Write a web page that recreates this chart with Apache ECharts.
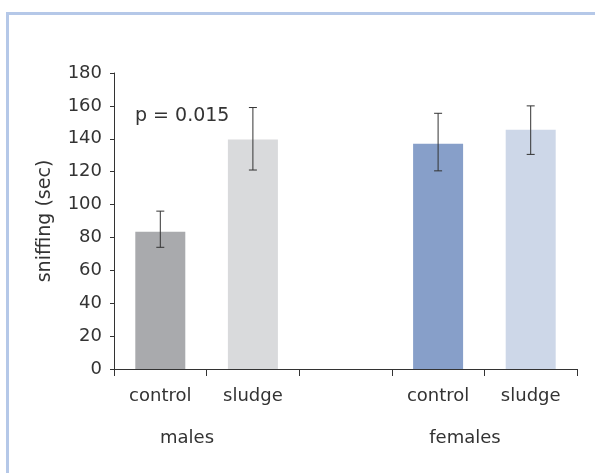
<!DOCTYPE html>
<html>
<head>
<meta charset="utf-8">
<script src="https://cdn.jsdelivr.net/npm/echarts@6/dist/echarts.min.js"></script>
<style>
html,body{margin:0;padding:0;background:#fff;}
#chart{width:595px;height:473px;}
</style>
</head>
<body>
<div id="chart"></div>
<script>
const categories = ['control', 'sludge', '', 'control', 'sludge'];
const means = [83.5, 139.5, null, 137, 145.5];
const errLow = [74, 121, null, 120.5, 130.5];
const errHigh = [96, 159, null, 155.5, 160];
const groupLabels = ['males', 'females'];
const yTicks = { min: 0, max: 180, interval: 20 };
const barColors = ['#a9aaad', '#d9dadc', '#ffffff', '#879fc9', '#cdd7e8'];

const FONT = 'DejaVu Sans';
const chart = echarts.init(document.getElementById('chart'), null, { renderer: 'canvas' });

const barData = means.map((v, i) => ({ value: v, itemStyle: { color: barColors[i] } }));
const errData = categories.map((c, i) => [i, errLow[i], errHigh[i]]).filter(d => d[1] != null);

chart.setOption({
  animation: false,
  backgroundColor: '#ffffff',
  grid: { left: 114, right: 18, top: 73, bottom: 104, containLabel: false },
  xAxis: {
    type: 'category',
    data: categories,
    boundaryGap: true,
    axisLine: { lineStyle: { color: '#333', width: 1 } },
    axisTick: { show: true, length: 7, lineStyle: { color: '#333' } },
    axisLabel: { color: '#333', fontFamily: FONT, fontSize: 18, margin: 18, interval: 0 }
  },
  yAxis: {
    type: 'value',
    min: yTicks.min, max: yTicks.max, interval: yTicks.interval,
    name: 'sniffing (sec)',
    nameLocation: 'middle',
    nameGap: 59,
    nameTextStyle: { color: '#333', fontFamily: FONT, fontSize: 19 },
    axisLine: { show: true, lineStyle: { color: '#333', width: 1 } },
    axisTick: { show: true, length: 4, lineStyle: { color: '#333' } },
    axisLabel: { color: '#333', fontFamily: FONT, fontSize: 18, margin: 12 },
    splitLine: { show: false }
  },
  series: [
    {
      type: 'bar',
      data: barData,
      barWidth: 50,
      silent: true
    },
    {
      type: 'custom',
      data: errData,
      silent: true,
      z: 5,
      renderItem: function (params, api) {
        const x = api.value(0);
        const lo = api.coord([x, api.value(1)]);
        const hi = api.coord([x, api.value(2)]);
        const cap = 4;
        const style = { stroke: '#333', lineWidth: 1 };
        return {
          type: 'group',
          children: [
            { type: 'line', shape: { x1: lo[0], y1: lo[1], x2: hi[0], y2: hi[1] }, style: style },
            { type: 'line', shape: { x1: hi[0] - cap, y1: hi[1], x2: hi[0] + cap, y2: hi[1] }, style: style },
            { type: 'line', shape: { x1: lo[0] - cap, y1: lo[1], x2: lo[0] + cap, y2: lo[1] }, style: style }
          ]
        };
      }
    }
  ],
  graphic: [
    {
      type: 'polyline',
      shape: { points: [[7.5, 473], [7.5, 13.5], [595, 13.5]] },
      style: { stroke: '#b5c8e8', lineWidth: 3, fill: null },
      silent: true
    },
    {
      type: 'text', left: 135, top: 107,
      style: { text: 'p = 0.015', fill: '#333', font: '19px "DejaVu Sans"' }
    },
    {
      type: 'text', x: 187, y: 438,
      style: { text: groupLabels[0], fill: '#333', font: '18px "DejaVu Sans"', align: 'center', verticalAlign: 'middle' }
    },
    {
      type: 'text', x: 465, y: 438,
      style: { text: groupLabels[1], fill: '#333', font: '18px "DejaVu Sans"', align: 'center', verticalAlign: 'middle' }
    }
  ]
});
</script>
</body>
</html>
